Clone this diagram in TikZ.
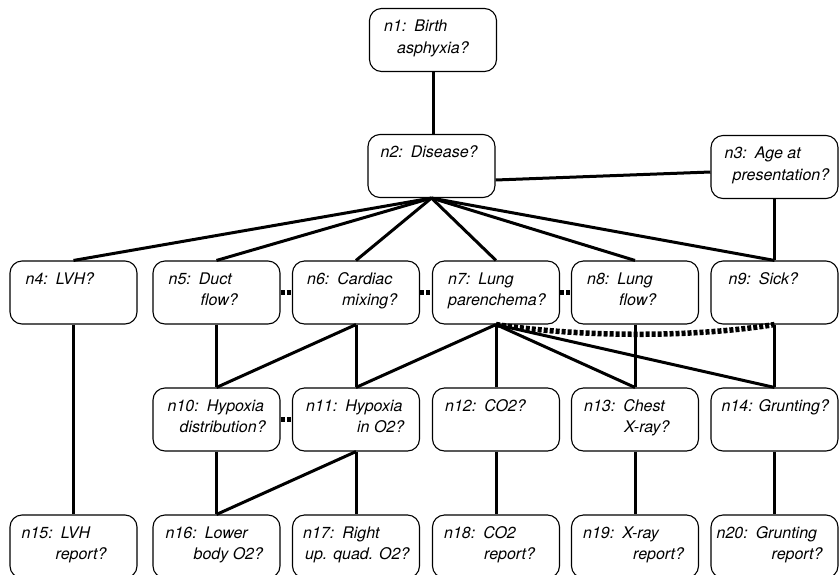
\documentclass[tikz,border=0pt]{standalone}
\usepackage{fontspec}
\setmainfont{TeX Gyre Heros}
\usetikzlibrary{calc}

\tikzset{
  nodebox/.style={draw, line width=1.1pt, rounded corners=12pt,
    minimum width=127pt, minimum height=63pt, inner sep=0pt},
  txt/.style={anchor=base west, inner sep=0pt,
    font=\itshape\fontsize{16}{20}\selectfont},
  link/.style={line width=3pt},
  weak/.style={line width=5.5pt, dash pattern=on 4pt off 2pt},
}

% #1 name, #2 x, #3 y, #4 left padding, #5 first line, #6 indent, #7 second line
\newcommand\nbox[7]{%
  \node[nodebox] (#1) at (#2,#3) {};
  \node[txt] (#1a) at ($(#1.north west)+(#4,24)$) {#5};
  \node[txt] (#1b) at ($(#1.north west)+(#4+#6,45.5)$) {#7};
}

\begin{document}
\begin{tikzpicture}[x=1pt, y=-1pt]
\useasboundingbox (0,0) rectangle (839,574);
\clip (0,0) rectangle (839,574);

% top
\nbox{n1}{433}{40}{15}{n1:\enspace Birth}{13}{asphyxia?}
\nbox{n2}{431.5}{166}{13}{n2:\enspace Disease?}{0}{}
\nbox{n3}{774.5}{167}{14}{n3:\enspace Age at}{8}{presentation?}

% second row
\nbox{n4}{73.5}{292.5}{16}{n4:\enspace LVH?}{0}{}
\nbox{n5}{216.5}{292.5}{16}{n5:\enspace Duct}{32}{flow?}
\nbox{n6}{356}{292.5}{15}{n6:\enspace Cardiac}{35}{mixing?}
\nbox{n7}{496}{292.5}{16}{n7:\enspace Lung}{0}{parenchema?}
\nbox{n8}{635}{292.5}{16}{n8:\enspace Lung}{32}{flow?}
\nbox{n9}{774.5}{292.5}{18}{n9:\enspace Sick?}{0}{}

% third row
\nbox{n10}{216.5}{419.5}{15}{n10:\enspace Hypoxia}{12}{distribution?}
\nbox{n11}{356}{419.5}{14}{n11:\enspace Hypoxia}{51}{in O2?}
\nbox{n12}{496}{419.5}{13}{n12:\enspace CO2?}{0}{}
\nbox{n13}{635}{419.5}{13}{n13:\enspace Chest}{40}{X-ray?}
\nbox{n14}{774.5}{419.5}{11}{n14: Grunting?}{0}{}

% bottom row
\nbox{n15}{73.5}{546.5}{12}{n15:\enspace LVH}{34}{report?}
\nbox{n16}{216.5}{546.5}{13}{n16:\enspace Lower}{28}{body O2?}
\nbox{n17}{356}{546.5}{11}{n17:\enspace Right}{2}{up. quad. O2?}
\nbox{n18}{496}{546.5}{12}{n18:\enspace CO2}{40}{report?}
\nbox{n19}{635}{546.5}{12}{n19:\enspace X-ray}{50}{report?}
\nbox{n20}{774.5}{546.5}{6}{n20:\enspace Grunting}{55}{report?}

% solid links
\draw[link] (n1.south) -- (n1.south |- n2.north);
\draw[link] ($(n2.east)+(0,14)$) -- ($(n3.west)+(0,5)$);
\foreach \t in {n4,n5,n6,n7,n8,n9}
  \draw[link] (n2.south) -- (\t.north);
\draw[link] (n3.south) -- (n9.north);
\draw[link] (n4.south) -- (n15.north);
\draw[link] (n5.south) -- (n10.north);
\draw[link] (n6.south) -- (n10.north);
\draw[link] (n6.south) -- (n11.north);
\foreach \t in {n11,n12,n13,n14}
  \draw[link] (n7.south) -- (\t.north);
\draw[link] (n8.south) -- (n13.north);
\draw[link] (n9.south) -- (n14.north);
\draw[link] (n10.south) -- (n16.north);
\draw[link] (n11.south) -- (n16.north);
\draw[link] (n11.south) -- (n17.north);
\draw[link] (n12.south) -- (n18.north);
\draw[link] (n13.south) -- (n19.north);
\draw[link] (n14.south) -- (n20.north);

% heavy dotted links
\draw[weak] (n5.east) -- (n6.west);
\draw[weak] (n6.east) -- (n7.west);
\draw[weak] (n7.east) -- (n8.west);
\draw[weak] (n10.east) -- (n11.west);
\draw[weak] (n7.south) .. controls (580,337) and (690,338) .. (n9.south);
\end{tikzpicture}
\end{document}
